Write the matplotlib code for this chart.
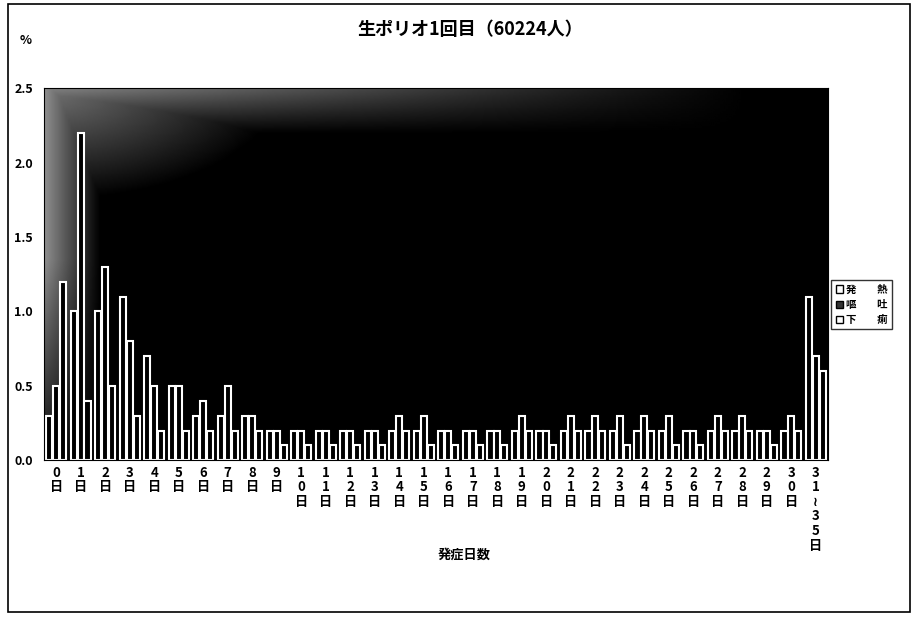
import matplotlib.pyplot as plt
import numpy as np

plt.rcParams['font.family'] = ['Noto Sans CJK JP', 'DejaVu Sans']

# 発症日数 categories
days = [str(i) for i in range(31)] + ["31≀35"]
tick_labels = ["\n".join(list(d)) + "\n日" for d in days]

fever = [0.3, 1.0, 1.0, 1.1, 0.7, 0.5, 0.3, 0.3, 0.3, 0.2,
         0.2, 0.2, 0.2, 0.2, 0.2, 0.2, 0.2, 0.2, 0.2, 0.2,
         0.2, 0.2, 0.2, 0.2, 0.2, 0.2, 0.2, 0.2, 0.2, 0.2,
         0.2, 1.1]
vomit = [0.5, 2.2, 1.3, 0.8, 0.5, 0.5, 0.4, 0.5, 0.3, 0.2,
         0.2, 0.2, 0.2, 0.2, 0.3, 0.3, 0.2, 0.2, 0.2, 0.3,
         0.2, 0.3, 0.3, 0.3, 0.3, 0.3, 0.2, 0.3, 0.3, 0.2,
         0.3, 0.7]
diarrhea = [1.2, 0.4, 0.5, 0.3, 0.2, 0.2, 0.2, 0.2, 0.2, 0.1,
            0.1, 0.1, 0.1, 0.1, 0.2, 0.1, 0.1, 0.1, 0.1, 0.2,
            0.1, 0.2, 0.2, 0.1, 0.2, 0.1, 0.1, 0.2, 0.2, 0.1,
            0.2, 0.6]

fig = plt.figure(figsize=(9.16, 6.22), dpi=100)
fig.patch.set_facecolor("white")

# outer frame
fig.patches.append(plt.Rectangle((0.009, 0.016), 0.984, 0.978, transform=fig.transFigure,
                                 fill=False, edgecolor="black", linewidth=1.2))

ax = fig.add_axes([0.048, 0.26, 0.856, 0.598])
ax.set_facecolor("black")

# grey haze along the top and left edges of the plot area (scan look)
gy, gx = np.mgrid[0:1:200j, 0:1:300j]
top = np.clip(1 - (1 - gy) / 0.12, 0, 1) * np.clip(1 - gx / 0.9, 0, 1) * 0.5
left = np.clip(1 - gx / 0.07, 0, 1) * np.clip(gy / 0.6 + 0.1, 0, 1) * 0.55
corner = np.clip(1 - np.sqrt((gx / 0.3) ** 2 + ((1 - gy) / 0.3) ** 2), 0, 1) * 0.45
haze = np.maximum(np.maximum(top, left), corner)
ax.imshow(haze, cmap="gray", vmin=0, vmax=1, extent=[-0.5, 31.5, 0, 2.5],
          origin="lower", aspect="auto", zorder=0, interpolation="bilinear")

x = np.arange(len(days))
w = 0.28
for off, vals in zip([-w, 0, w], [fever, vomit, diarrhea]):
    ax.bar(x + off, vals, width=w * 0.9, facecolor="black", edgecolor="white",
           linewidth=1.5, zorder=2)

ax.set_xlim(-0.5, 31.5)
ax.set_ylim(0, 2.5)
ax.set_yticks([0, 0.5, 1.0, 1.5, 2.0, 2.5])
ax.set_yticklabels(["0.0", "0.5", "1.0", "1.5", "2.0", "2.5"], fontsize=9, fontweight="bold")
ax.set_xticks(x)
ax.set_xticklabels(tick_labels, fontsize=9.5, fontweight="bold", linespacing=1.05, va="top")
ax.tick_params(axis="x", length=0, pad=4)
ax.tick_params(axis="y", length=0, pad=8)
for s in ax.spines.values():
    s.set_color("black")

fig.text(0.513, 0.952, "生ポリオ1回目（60224人）", ha="center", va="center",
         fontsize=13, fontweight="bold")
fig.text(0.028, 0.935, "%", ha="center", va="center", fontsize=9, fontweight="bold")
fig.text(0.507, 0.108, "発症日数", ha="center", va="center", fontsize=9.5, fontweight="bold")

handles = [plt.Rectangle((0, 0), 1, 1, facecolor="white", edgecolor="black"),
           plt.Rectangle((0, 0), 1, 1, facecolor="#333333", edgecolor="black"),
           plt.Rectangle((0, 0), 1, 1, facecolor="white", edgecolor="black")]
leg = fig.legend(handles, ["発　　熱", "嘔　　吐", "下　　痢"], loc="center left",
                 bbox_to_anchor=(0.902, 0.51), fontsize=7.5, frameon=True,
                 fancybox=False, edgecolor="black", handlelength=0.7, handleheight=0.7,
                 handletextpad=0.3, borderpad=0.4, labelspacing=0.5)
leg.get_frame().set_linewidth(1.0)
for t in leg.get_texts():
    t.set_fontweight("bold")

fig.savefig("out.png", dpi=100)
